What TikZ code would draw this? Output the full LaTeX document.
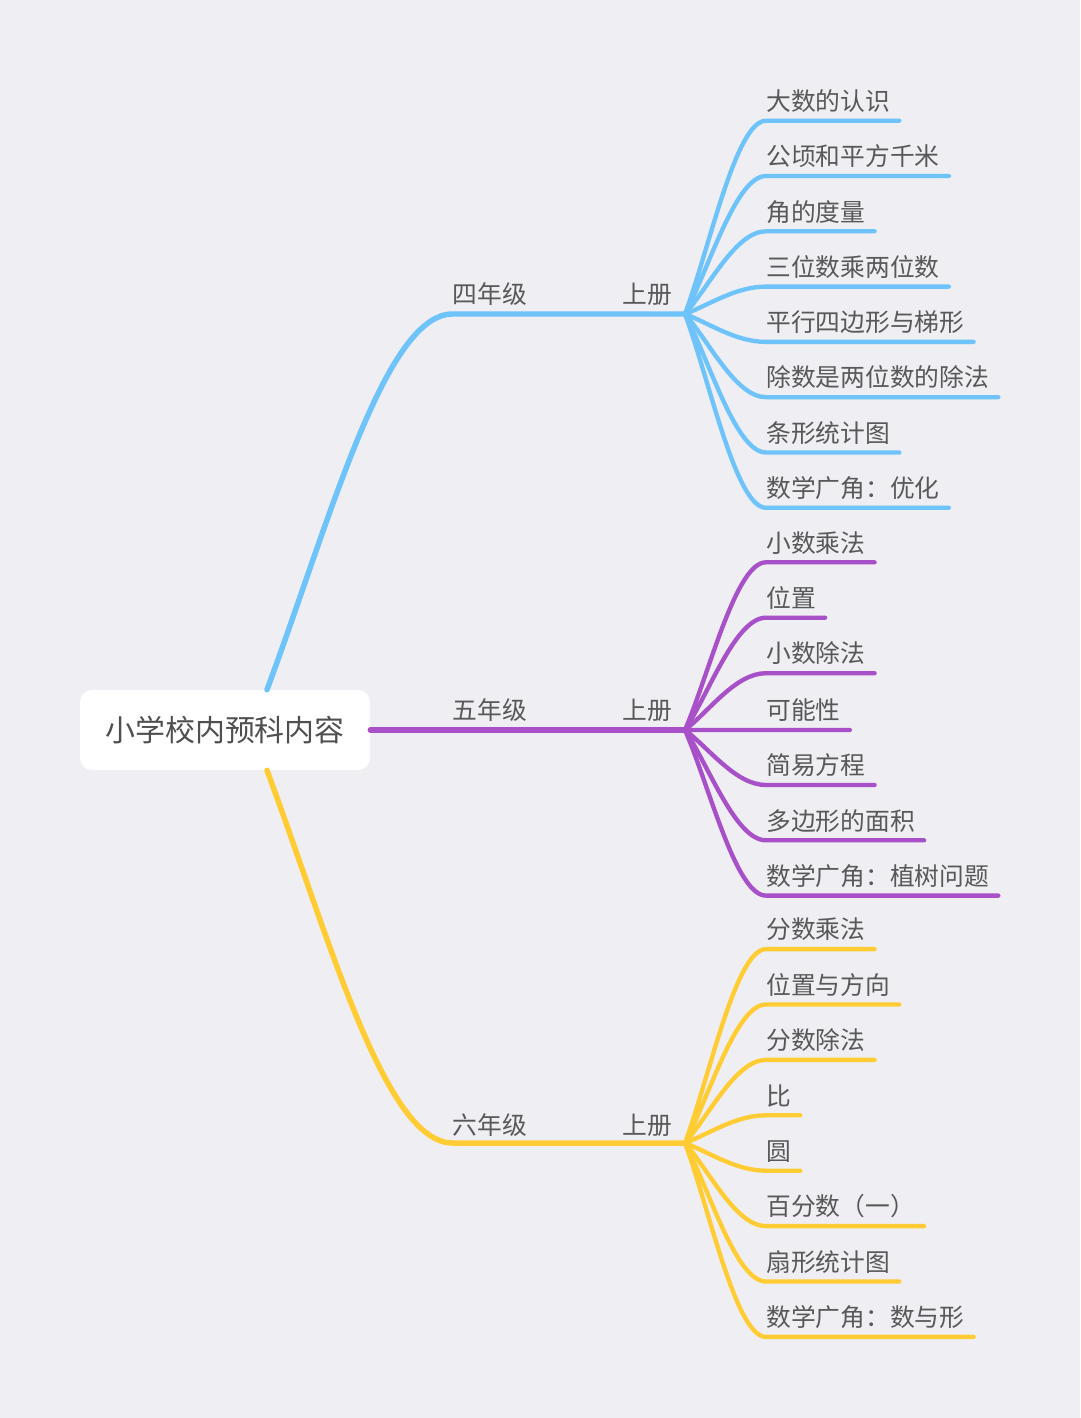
\documentclass[tikz,border=0pt]{standalone}
\usepackage{fontspec}
\newfontfamily\cjk{Noto Sans CJK SC}
\usetikzlibrary{calc}
\definecolor{bg}{HTML}{EEEEF3}
\definecolor{txt}{HTML}{585858}
\definecolor{blue4}{HTML}{6EC4FA}
\definecolor{purple5}{HTML}{A850C8}
\definecolor{yellow6}{HTML}{FFCC33}
\begin{document}
\begin{tikzpicture}[x=0.025cm,y=-0.025cm,text=txt,font=\cjk\fontsize{17.6}{20}\selectfont,
 root/.style={fill=white,rounded corners=8.5pt,minimum width=7.25cm,minimum height=2cm,font=\cjk\fontsize{21.3}{24}\selectfont,text=txt!90!black},
 grade/.style={inner sep=0pt},
 leaf/.style={anchor=south west,inner sep=0pt,text depth=7.1pt},
 br/.style={line width=3.9pt,line cap=round},
 tw/.style={line width=3.1pt,line cap=round}]
\useasboundingbox (0,0) rectangle (1080,1418);
\fill[bg] (0,0) rectangle (1080,1418);
\node[root] (root) at (225,730) {小学校内预科内容};
% grade labels and branch points
\node[grade] (g4) at (490,294) {四年级}; \node[grade] (s4) at (647,294) {上册}; \coordinate (k4) at (685,314);
\node[grade] (g5) at (490,710) {五年级}; \node[grade] (s5) at (647,710) {上册}; \coordinate (k5) at (685,730);
\node[grade] (g6) at (490,1125) {六年级}; \node[grade] (s6) at (647,1125) {上册}; \coordinate (k6) at (685,1143);
% four grade
\node[leaf] (a1) at (766,120.7) {大数的认识};
\node[leaf] (a2) at (766,176) {公顷和平方千米};
\node[leaf] (a3) at (766,231.3) {角的度量};
\node[leaf] (a4) at (766,286.6) {三位数乘两位数};
\node[leaf] (a5) at (766,341.9) {平行四边形与梯形};
\node[leaf] (a6) at (766,397.2) {除数是两位数的除法};
\node[leaf] (a7) at (766,452.5) {条形统计图};
\node[leaf] (a8) at (766,507.8) {数学广角：优化};
% five grade
\node[leaf] (b1) at (766,562.3) {小数乘法};
\node[leaf] (b2) at (766,617.7) {位置};
\node[leaf] (b3) at (766,673.2) {小数除法};
\node[leaf] (b4) at (766,730) {可能性};
\node[leaf] (b5) at (766,785) {简易方程};
\node[leaf] (b6) at (766,840.3) {多边形的面积};
\node[leaf] (b7) at (766,895.6) {数学广角：植树问题};
% six grade
\node[leaf] (c1) at (766,949.1) {分数乘法};
\node[leaf] (c2) at (766,1004.5) {位置与方向};
\node[leaf] (c3) at (766,1059.9) {分数除法};
\node[leaf] (c4) at (766,1115.3) {比};
\node[leaf] (c5) at (766,1170.7) {圆};
\node[leaf] (c6) at (766,1226.1) {百分数（一）};
\node[leaf] (c7) at (766,1281.5) {扇形统计图};
\node[leaf] (c8) at (766,1336.9) {数学广角：数与形};
% main branches
\draw[br,blue4] ($(root.north)+(42,0)$) .. controls (330,520) and (385,314) .. (g4.west |- k4) -- (k4);
\draw[br,purple5] (root.east) -- (k5);
\draw[br,yellow6] ($(root.south)+(42,0)$) .. controls (330,940) and (385,1143) .. (g6.west |- k6) -- (k6);
% leaf connectors
\foreach \i in {1,...,8}
 \draw[tw,blue4] (k4) .. controls ($(k4)!0.35!(k4 |- a\i.south west)+(25,0)$) and ($(a\i.south west)+(-30,0)$) .. (a\i.south west) -- ($(a\i.south east)+(9,0)$);
\foreach \i in {1,...,7}
 \draw[tw,purple5] (k5) .. controls ($(k5)!0.35!(k5 |- b\i.south west)+(25,0)$) and ($(b\i.south west)+(-30,0)$) .. (b\i.south west) -- ($(b\i.south east)+(9,0)$);
\foreach \i in {1,...,8}
 \draw[tw,yellow6] (k6) .. controls ($(k6)!0.35!(k6 |- c\i.south west)+(25,0)$) and ($(c\i.south west)+(-30,0)$) .. (c\i.south west) -- ($(c\i.south east)+(9,0)$);
\end{tikzpicture}
\end{document}
